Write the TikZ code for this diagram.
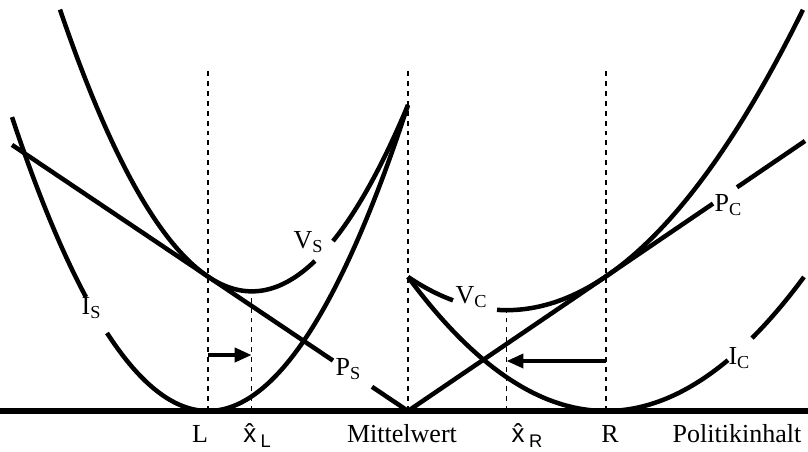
\documentclass[tikz,border=0pt]{standalone}
\usepackage{fontspec}
\setmainfont{Liberation Serif}
\setsansfont{Liberation Sans}
\usetikzlibrary{arrows.meta}
\newcommand{\tief}[1]{\raisebox{-0.3ex}{\fontsize{13}{13}\selectfont #1}}
\newcommand{\xdach}[1]{{\sffamily\^{x}\,\raisebox{-0.4ex}{\fontsize{13}{13}\selectfont #1}}}

\begin{document}
\begin{tikzpicture}[x=2.5cm, y=2.5cm,
    kurve/.style={line width=3.2pt},
    hilfslinie/.style={line width=1pt, dash pattern=on 3.5pt off 3.5pt},
    pfeil/.style={line width=2.6pt, -{Triangle[length=12pt,width=10pt]}},
    marke/.style={font=\fontsize{18.5}{18.5}\selectfont, inner sep=0pt}]
    \useasboundingbox (0,-0.40) rectangle (8.08,4.11);

    % Punkte auf der Achse
    \coordinate (L) at (2.08,0);
    \coordinate (xL) at (2.516,0);
    \coordinate (M) at (4.08,0);
    \coordinate (xR) at (5.066,0);
    \coordinate (R) at (6.06,0);

    % Hilfslinien
    \draw[hilfslinie] (L) -- ++(0,3.43);
    \draw[hilfslinie] (M) -- ++(0,3.43);
    \draw[hilfslinie] (R) -- ++(0,3.43);
    \draw[hilfslinie] (xL) -- ++(0,1.20);
    \draw[hilfslinie] (xR) -- ++(0,1.01);

    % I_S, V_S, P_S
    \draw[kurve] plot[domain=0.12:0.86, samples=30] (\x,{0.765*(\x-2.08)^2});
    \draw[kurve] plot[domain=1.07:4.08, samples=80] (\x,{0.765*(\x-2.08)^2});
    \draw[kurve] plot[domain=0.60:3.15, samples=80] (\x,{0.765*(\x-2.08)^2+0.672*(4.08-\x)});
    \draw[kurve] plot[domain=3.33:4.08, samples=30] (\x,{0.765*(\x-2.08)^2+0.672*(4.08-\x)});
    \draw[kurve] (0.12,2.661) -- (3.33,0.504);
    \draw[kurve] (3.72,0.242) -- (M);

    % I_C, V_C, P_C
    \draw[kurve] plot[domain=4.08:7.28, samples=80] (\x,{0.342*(\x-6.06)^2});
    \draw[kurve] plot[domain=7.52:8.04, samples=20] (\x,{0.342*(\x-6.06)^2});
    \draw[kurve] plot[domain=4.08:4.53, samples=20] (\x,{0.342*(\x-6.06)^2+0.68*(\x-4.08)});
    \draw[kurve] plot[domain=4.97:8.03, samples=80] (\x,{0.342*(\x-6.06)^2+0.68*(\x-4.08)});
    \draw[kurve] (M) -- (7.13,2.074);
    \draw[kurve] (7.37,2.237) -- (8.05,2.70);

    % Achse
    \draw[line width=3.6pt] (0,0) -- (8.08,0);

    % Verschiebungen
    \draw[pfeil] (2.08,0.56) -- (2.516,0.56);
    \draw[pfeil] (6.06,0.50) -- (5.066,0.50);

    % Kurvennamen
    \node[marke] (IS) at (0.91,1.03) {I\tief{S}};
    \node[marke] (VS) at (3.08,1.69) {V\tief{S}};
    \node[marke] (PS) at (3.48,0.42) {P\tief{S}};
    \node[marke] (VC) at (4.71,1.14) {V\tief{C}};
    \node[marke] (IC) at (7.39,0.53) {I\tief{C}};
    \node[marke] (PC) at (7.28,2.06) {P\tief{C}};

    % Achsenbeschriftung
    \node[marke, anchor=base] (lL) at (2.00,-0.31) {L};
    \node[marke, anchor=base] (lxL) at (2.57,-0.31) {\xdach{L}};
    \node[marke, anchor=base] (lM) at (4.02,-0.31) {Mittelwert};
    \node[marke, anchor=base] (lxR) at (5.27,-0.31) {\xdach{R}};
    \node[marke, anchor=base] (lR) at (6.10,-0.31) {R};
    \node[marke, anchor=base] (lP) at (7.37,-0.31) {Politikinhalt};
\end{tikzpicture}
\end{document}
